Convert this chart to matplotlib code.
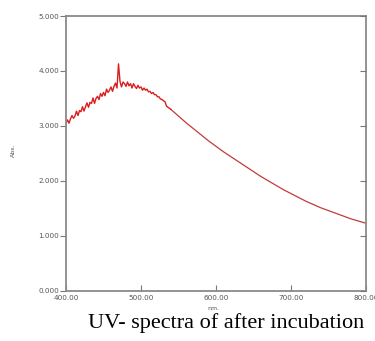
import matplotlib
matplotlib.use("Agg")
import matplotlib.pyplot as plt

# --- data ---
# noisy part, 2 nm step
wl_noisy = list(range(400, 541, 2))
abs_noisy = [
    3.05, 3.11, 3.05, 3.13, 3.19, 3.14, 3.18, 3.27, 3.19, 3.28,
    3.26, 3.35, 3.27, 3.35, 3.42, 3.34, 3.43, 3.41, 3.51, 3.41,
    3.50, 3.54, 3.48, 3.59, 3.54, 3.61, 3.55, 3.67, 3.61, 3.65,
    3.71, 3.63, 3.72, 3.78, 3.69, 4.13, 3.81, 3.71, 3.80, 3.77,
    3.72, 3.80, 3.73, 3.77, 3.69, 3.77, 3.72, 3.68, 3.74, 3.69,
    3.71, 3.65, 3.69, 3.65, 3.67, 3.62, 3.63, 3.59, 3.61, 3.57,
    3.57, 3.53, 3.53, 3.49, 3.48, 3.46, 3.44, 3.36, 3.34, 3.32,
    3.30,
]
# smooth tail, 10 nm step
wl_smooth = [540, 550, 560, 570, 580, 590, 600, 610, 620, 630, 640, 650, 660,
             670, 680, 690, 700, 710, 720, 730, 740, 750, 760, 770, 780, 790, 800]
abs_smooth = [3.30, 3.18, 3.06, 2.95, 2.84, 2.73, 2.63, 2.53, 2.44, 2.35, 2.26,
              2.17, 2.08, 2.00, 1.92, 1.84, 1.77, 1.70, 1.63, 1.57, 1.51, 1.46,
              1.41, 1.36, 1.31, 1.27, 1.23]

xticks = [400, 500, 600, 700, 800]
yticks = [0, 1, 2, 3, 4, 5]

fig = plt.figure(figsize=(3.75, 3.41), dpi=100)
ax = fig.add_axes([0.176, 0.147, 0.800, 0.806])

ax.plot(wl_noisy, abs_noisy, color="#d81e1e", lw=1.0)
ax.plot(wl_smooth, abs_smooth, color="#c43a3a", lw=0.9)

ax.set_xlim(400, 800)
ax.set_ylim(0, 5)
ax.set_xticks(xticks)
ax.set_xticklabels([f"{v:.2f}" for v in xticks])
ax.set_yticks(yticks)
ax.set_yticklabels([f"{v:.3f}" for v in yticks])

for s in ax.spines.values():
    s.set_color("#8a8a8a")
    s.set_linewidth(1.3)

ax.tick_params(axis="y", which="both", direction="out", length=4, width=0.8,
               color="#777777", labelsize=5.2, labelcolor="#555555", pad=1,
               right=False)
ax.tick_params(axis="x", direction="in", length=4, width=0.8, color="#777777",
               labelsize=5.2, labelcolor="#555555", pad=3)

# inward ticks on the right side
ax2 = ax.twinx()
ax2.set_ylim(0, 5)
ax2.set_yticks(yticks)
ax2.set_yticklabels([])
ax2.tick_params(axis="y", direction="in", length=4, width=0.8, color="#777777")
for s in ax2.spines.values():
    s.set_visible(False)

fig.text(0.568, 0.094, "nm.", fontsize=4.5, color="#555555", ha="center", va="center")
fig.text(0.037, 0.56, "Abs.", fontsize=4.5, color="#555555", ha="center",
         va="center", rotation=90)

fig.text(0.603, 0.053, "UV- spectra of after incubation", fontsize=16,
         family="Liberation Serif", ha="center", va="center")

fig.savefig("out.png", dpi=100)
